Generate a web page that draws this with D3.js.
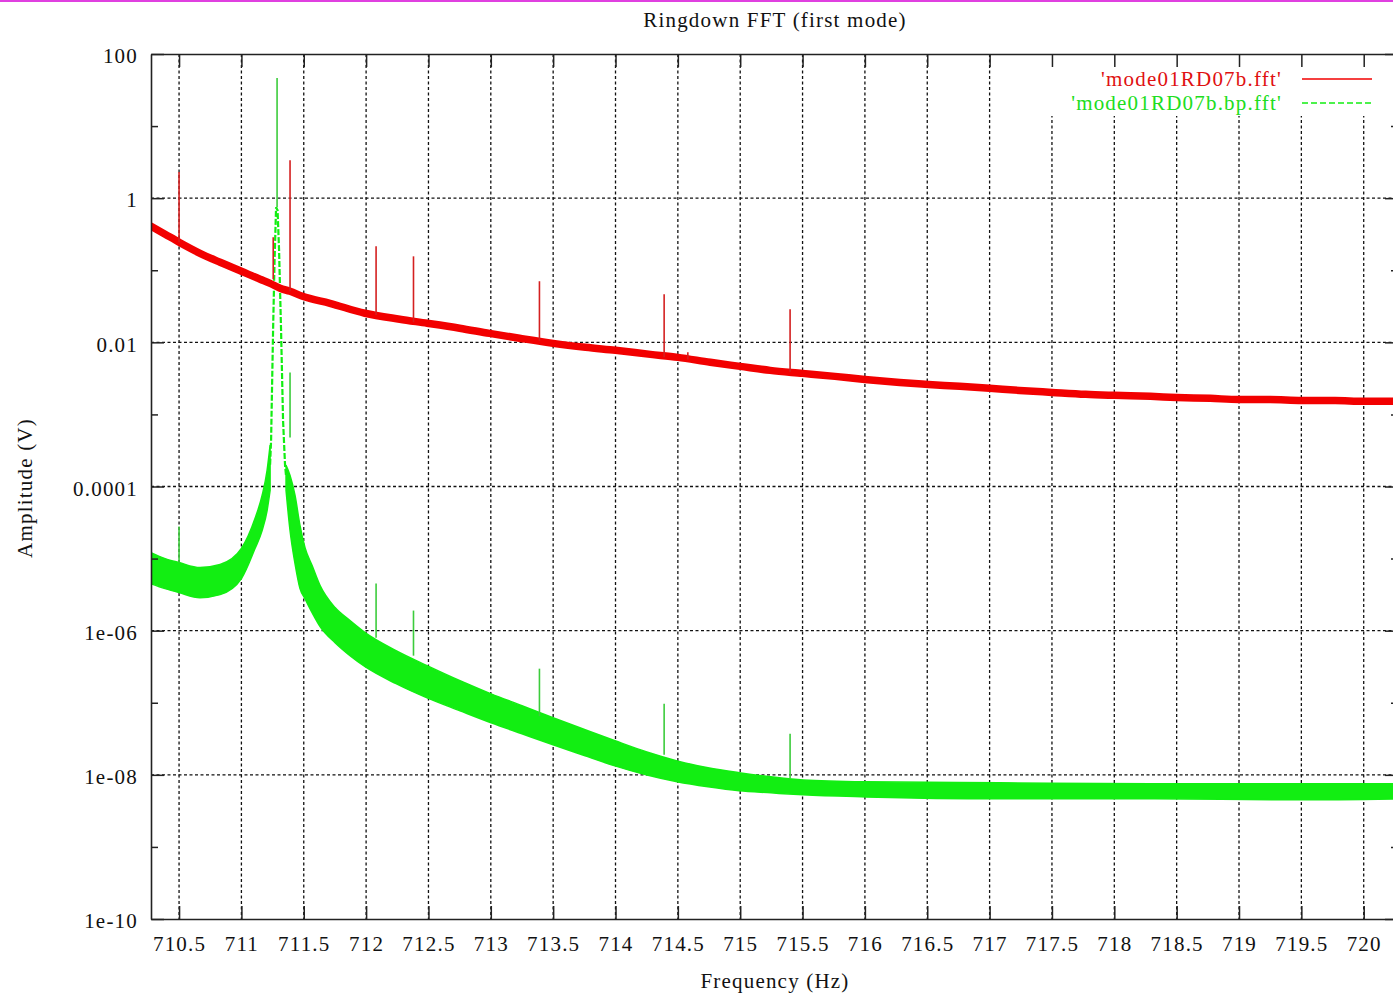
<!DOCTYPE html>
<html><head><meta charset="utf-8">
<script src="https://cdn.jsdelivr.net/npm/d3@7"></script>
<style>
html,body{margin:0;padding:0;background:#fff;overflow:hidden}
svg{display:block}
text{font-family:"Liberation Serif","DejaVu Serif",serif;font-size:21px;letter-spacing:1.2px;fill:#111}
</style></head><body>
<svg id="chart" width="1393" height="994"></svg>
<script>
const title = "Ringdown FFT (first mode)";
const xLabel = "Frequency (Hz)";
const yLabel = "Amplitude (V)";
const seriesNames = ["'mode01RD07b.fft'", "'mode01RD07b.bp.fft'"];
const xDomain = [710.275, 720.275];
const yDomain = [1e-10, 100];
const xTickValues = [710.5,711,711.5,712,712.5,713,713.5,714,714.5,715,715.5,716,716.5,717,717.5,718,718.5,719,719.5,720];
const yTickValues = [100, 1, 0.01, 0.0001, 1e-6, 1e-8, 1e-10];
const yTickLabels = ["100", "1", "0.01", "0.0001", "1e-06", "1e-08", "1e-10"];
const yMinorTicks = [10, 0.1, 0.001, 1e-5, 1e-7, 1e-9];

// red: 'mode01RD07b.fft' (noise floor centre)
const redFreq = [710.275,710.388,710.5,710.668,710.829,711.0,711.15,711.23,711.31,711.39,711.49,711.71,711.99,712.27,712.49,712.75,712.99,713.23,713.5,713.76,714.0,714.28,714.5,714.76,715.0,715.24,715.5,715.76,716.0,716.28,716.51,716.76,717.0,717.24,717.5,717.77,718.0,718.29,718.5,718.77,719.0,719.25,719.5,719.77,720.0,720.275];
const redAmp = [0.408,0.316,0.245,0.172,0.129,0.0968,0.075,0.0659,0.0562,0.0511,0.0435,0.0348,0.0253,0.0209,0.0184,0.0157,0.0133,0.0114,0.00968,0.00853,0.00774,0.00681,0.00619,0.00528,0.00464,0.00408,0.00371,0.00337,0.00306,0.00278,0.00261,0.00245,0.0023,0.00215,0.00202,0.0019,0.00184,0.00178,0.00172,0.00167,0.00161,0.00161,0.00156,0.00156,0.00152,0.00152];
const redSpikeFreq = [710.275,710.5,711.255,711.39,712.08,712.38,713.39,714.39,714.58,715.4];
const redSpikeTop = [0.75,2.30,0.287,3.37,0.215,0.156,0.0704,0.0464,0.0073,0.0287];
const redSpikeBase = [0.41,0.245,0.075,0.051,0.024,0.019,0.0105,0.0062,0.0058,0.0039];

// green: 'mode01RD07b.bp.fft' (noise band lower / upper edges)
const greenLeftFreq = [710.275,710.388,710.5,710.668,710.829,711.0,711.109,711.166,711.206,711.23];
const greenLeftLo = [4.5e-6,3.83e-6,3.37e-6,2.87e-6,3.16e-6,5.28e-6,1.38e-5,2.45e-5,4.64e-5,8.8e-5];
const greenLeftHi = [1.21e-5,1.0e-5,8.8e-6,7.5e-6,8.26e-6,1.38e-5,3.59e-5,7.5e-5,1.67e-4,3.71e-4];
const greenPeakFreq = [711.23,711.238,711.254,711.266,711.278,711.29,711.302,711.318,711.334,711.35,711.358];
const greenPeakAmp = [2.0e-4,4.35e-4,0.0147,0.138,0.75,0.68,0.19,0.0147,8.26e-4,1.96e-4,1.4e-4];
const greenRightFreq = [711.358,711.39,711.43,711.47,711.51,711.567,711.631,711.751,711.871,711.992,712.24,712.489,712.753,713.002,713.25,713.499,713.756,713.996,714.245,714.494,714.742,714.991,715.247,715.504,716.009,717.08,718.29,719.49,720.275];
const greenRightLo = [8.8e-5,2.45e-5,8.5e-6,3.83e-6,2.78e-6,1.78e-6,1.14e-6,6.81e-7,4.5e-7,3.16e-7,1.84e-7,1.17e-7,7.74e-8,5.28e-8,3.71e-8,2.61e-8,1.84e-8,1.33e-8,1.0e-8,8.0e-9,6.81e-9,6.0e-9,5.62e-9,5.28e-9,4.94e-9,4.64e-9,4.64e-9,4.5e-9,4.64e-9];
const greenRightHi = [1.96e-4,1.42e-4,7.5e-5,2.87e-5,1.42e-5,8.0e-6,4.22e-6,2.09e-6,1.38e-6,9.4e-7,5.28e-7,3.27e-7,2.02e-7,1.33e-7,9.1e-8,6.19e-8,4.22e-8,2.97e-8,2.09e-8,1.56e-8,1.25e-8,1.07e-8,9.4e-9,8.5e-9,8.0e-9,7.74e-9,7.5e-9,7.5e-9,7.5e-9];
const greenSpikeFreq = [710.275,710.5,711.286,711.39,712.08,712.38,713.39,714.39,715.4];
const greenSpikeTop = [2.45e-5,2.78e-5,46.4,0.00383,4.5e-6,1.9e-6,2.97e-7,9.7e-8,3.71e-8];
const greenSpikeBase = [1.2e-5,8.8e-6,0.75,4.8e-4,8e-7,4.5e-7,6.5e-8,1.9e-8,9e-9];

const W = 1393, H = 994;
const M = {left: 151, top: 54, right: 1398, bottom: 919};
const svg = d3.select("#chart");

svg.append("rect").attr("x",0).attr("y",0).attr("width",W).attr("height",2).attr("fill","#e040e0");

const x = d3.scaleLinear().domain(xDomain).range([M.left, M.right]);
const y = d3.scaleLog().domain(yDomain).range([M.bottom, M.top]);

svg.append("defs").append("clipPath").attr("id","plotclip")
  .append("rect").attr("x",M.left).attr("y",M.top).attr("width",M.right-M.left).attr("height",M.bottom-M.top);

// grid
const grid = svg.append("g").attr("stroke","#111").attr("stroke-width",1.3).attr("stroke-dasharray","3,2.5");
grid.selectAll("line.v").data(xTickValues).join("line").attr("class","v")
  .attr("x1",d=>x(d)).attr("x2",d=>x(d)).attr("y1",M.top).attr("y2",M.bottom);
grid.selectAll("line.h").data(yTickValues.filter(d=>d<100 && d>1e-10)).join("line").attr("class","h")
  .attr("x1",M.left).attr("x2",M.right).attr("y1",d=>y(d)).attr("y2",d=>y(d));
// key box clears the grid
svg.append("rect").attr("x",1040).attr("y",M.top+1).attr("width",M.right-1040).attr("height",61).attr("fill","#fff");

const plot = svg.append("g").attr("clip-path","url(#plotclip)");

const redColor = "#f20000", greenColor = "#12ee12";

// green band
const band = d3.area().curve(d3.curveMonotoneX).x(d=>x(d.f)).y0(d=>y(d.lo)).y1(d=>y(d.hi));
const gl = greenLeftFreq.map((f,i)=>({f, lo:greenLeftLo[i], hi:greenLeftHi[i]}));
const gr = greenRightFreq.map((f,i)=>({f, lo:greenRightLo[i], hi:greenRightHi[i]}));
[gl, gr].forEach(dat => {
  plot.append("path").datum(dat).attr("d", band).attr("fill", greenColor)
    .attr("stroke", greenColor).attr("stroke-width", 1.5).attr("stroke-linejoin","round");
});
// green resonance peak (dashed line style)
const line = d3.line().x(d=>x(d.f)).y(d=>y(d.a));
plot.append("path").datum(greenPeakFreq.map((f,i)=>({f, a:greenPeakAmp[i]})))
  .attr("d", line).attr("fill","none").attr("stroke", greenColor).attr("stroke-width",2.2)
  .attr("stroke-dasharray","6,2");
// green spikes
plot.selectAll("line.gs").data(greenSpikeFreq).join("line").attr("class","gs")
  .attr("x1",d=>x(d)).attr("x2",d=>x(d))
  .attr("y1",(d,i)=>y(greenSpikeBase[i])).attr("y2",(d,i)=>y(greenSpikeTop[i]))
  .attr("stroke","#3ccc3c").attr("stroke-width",1.6);

// red trace
const smooth = d3.line().curve(d3.curveMonotoneX).x(d=>x(d.f)).y(d=>y(d.a));
plot.append("path").datum(redFreq.map((f,i)=>({f, a:redAmp[i]})))
  .attr("d", smooth).attr("fill","none").attr("stroke", redColor).attr("stroke-width",7.5)
  .attr("stroke-linejoin","round").attr("stroke-linecap","round");
plot.selectAll("line.rs").data(redSpikeFreq).join("line").attr("class","rs")
  .attr("x1",d=>x(d)).attr("x2",d=>x(d))
  .attr("y1",(d,i)=>y(redSpikeBase[i])).attr("y2",(d,i)=>y(redSpikeTop[i]))
  .attr("stroke","#d42020").attr("stroke-width",1.6);

// axes
function styleAxis(g){
  g.select(".domain").attr("stroke","#222").attr("stroke-width",1.6);
  g.selectAll(".tick line").attr("stroke","#222").attr("stroke-width",1.5);
  g.selectAll("text").attr("fill","#111").style("font-size","21px").attr("font-family",null);
}
const xb = svg.append("g").attr("transform",`translate(0,${M.bottom})`)
  .call(d3.axisBottom(x).tickValues(xTickValues).tickFormat(d3.format("")).tickSizeInner(-13).tickSizeOuter(0).tickPadding(17));
styleAxis(xb);
const xt = svg.append("g").attr("transform",`translate(0,${M.top})`)
  .call(d3.axisTop(x).tickValues(xTickValues).tickFormat("").tickSizeInner(-13).tickSizeOuter(0));
styleAxis(xt);
const yl = svg.append("g").attr("transform",`translate(${M.left},0)`)
  .call(d3.axisLeft(y).tickValues(yTickValues).tickFormat((d,i)=>yTickLabels[i]).tickSizeInner(-13).tickSizeOuter(0).tickPadding(13));
styleAxis(yl);
yl.selectAll("text").attr("dy","0.42em");
const ylm = svg.append("g").attr("transform",`translate(${M.left},0)`)
  .call(d3.axisLeft(y).tickValues(yMinorTicks).tickFormat("").tickSizeInner(-7).tickSizeOuter(0));
styleAxis(ylm); ylm.select(".domain").remove();
const yr = svg.append("g").attr("transform",`translate(${M.right},0)`)
  .call(d3.axisRight(y).tickValues(yTickValues).tickFormat("").tickSizeInner(-13).tickSizeOuter(0));
styleAxis(yr);
const yrm = svg.append("g").attr("transform",`translate(${M.right},0)`)
  .call(d3.axisRight(y).tickValues(yMinorTicks).tickFormat("").tickSizeInner(-7).tickSizeOuter(0));
styleAxis(yrm); yrm.select(".domain").remove();

// titles
svg.append("text").attr("x",775).attr("y",27).attr("text-anchor","middle").text(title);
svg.append("text").attr("x",775).attr("y",988).attr("text-anchor","middle").text(xLabel);
svg.append("text").attr("transform","translate(32,488) rotate(-90)").attr("text-anchor","middle").text(yLabel);

// legend
const legendColors = [redColor, greenColor];
const legendDash = [null, "6,3"];
const leg = svg.append("g");
seriesNames.forEach((name,i)=>{
  const yy = 79 + i*24;
  leg.append("text").attr("x",1282).attr("y",yy+7).attr("text-anchor","end")
    .style("fill", i===0 ? "#e01010" : "#20dd20").text(name);
  leg.append("line").attr("x1",1302).attr("x2",1372).attr("y1",yy).attr("y2",yy)
    .attr("stroke", legendColors[i]).attr("stroke-width",1.6).attr("stroke-dasharray", legendDash[i]);
});
</script>
</body></html>
